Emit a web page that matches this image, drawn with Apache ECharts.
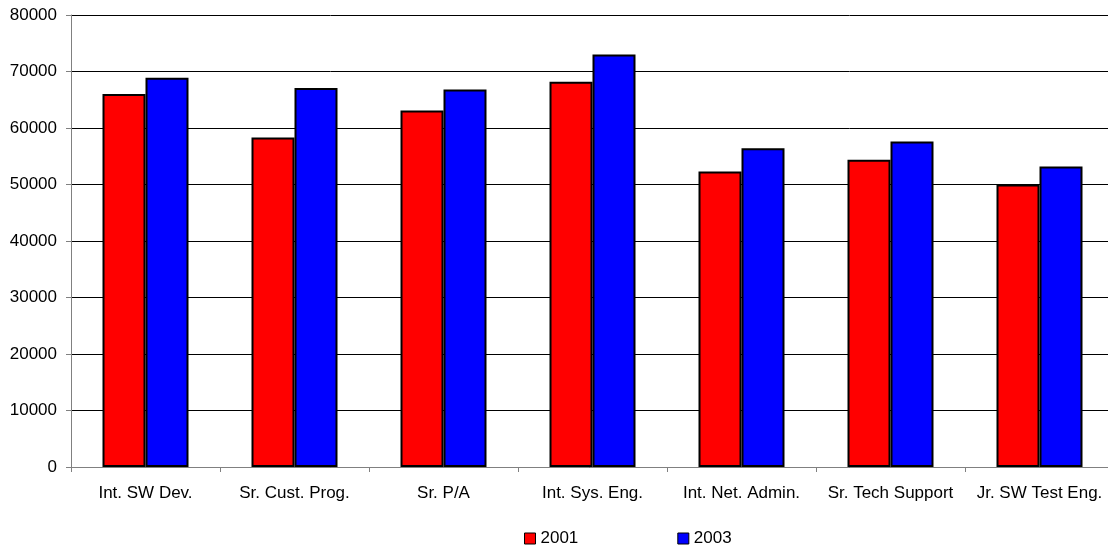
<!DOCTYPE html>
<html>
<head>
<meta charset="utf-8">
<script src="https://cdn.jsdelivr.net/npm/echarts@6/dist/echarts.min.js"></script>
<style>
  html, body { margin: 0; padding: 0; background: #fff; }
  #chart { width: 1108px; height: 548px; }
</style>
</head>
<body>
<div id="chart"></div>
<script>
// Job titles along the x axis
const categories = ['Int. SW Dev.', 'Sr. Cust. Prog.', 'Sr. P/A', 'Int. Sys. Eng.', 'Int. Net. Admin.', 'Sr. Tech Support', 'Jr. SW Test Eng.'];
// Salaries per year
const salaries2001 = [66000, 58300, 63100, 68200, 52300, 54400, 50000];
const salaries2003 = [68900, 67100, 66800, 73000, 56400, 57600, 53200];
// Value axis range
const yMin = 0, yMax = 80000, yStep = 10000;

const font = 'Liberation Sans, Arial, sans-serif';
const chart = echarts.init(document.getElementById('chart'), null, { renderer: 'canvas' });

const barStyle = (color) => ({ color: color, borderColor: '#000', borderWidth: 2 });

chart.setOption({
  animation: false,
  backgroundColor: '#fff',
  // plot area runs slightly past the right edge of the canvas
  grid: { left: 71, width: 1043, top: 15, bottom: 81, containLabel: false, outerBoundsMode: 'none' },
  legend: {
    left: 519, top: 525,
    itemWidth: 11, itemHeight: 11, itemGap: 99,
    icon: 'rect',
    itemStyle: { borderColor: '#000', borderWidth: 1 },
    textStyle: { fontFamily: font, fontSize: 17, color: '#000' },
    data: ['2001', '2003']
  },
  xAxis: {
    type: 'category',
    data: categories,
    axisLine: { lineStyle: { color: '#808080', width: 1 } },
    axisTick: { show: true, length: 5, lineStyle: { color: '#808080' } },
    axisLabel: { fontFamily: font, fontSize: 17, color: '#000', margin: 18, interval: 0 }
  },
  yAxis: {
    type: 'value',
    min: yMin, max: yMax, interval: yStep,
    axisLine: { show: true, lineStyle: { color: '#808080', width: 1 } },
    axisTick: { show: true, length: 5, lineStyle: { color: '#808080' } },
    axisLabel: { fontFamily: font, fontSize: 17, color: '#000', margin: 14, formatter: (v) => String(v) },
    splitLine: { lineStyle: { color: '#000', width: 1 } }
  },
  series: [
    { name: '2001', type: 'bar', data: salaries2001, barWidth: 43, barGap: '0%', itemStyle: barStyle('#ff0000') },
    { name: '2003', type: 'bar', data: salaries2003, barWidth: 43, barGap: '0%', itemStyle: barStyle('#0000ff') }
  ]
});
</script>
</body>
</html>
